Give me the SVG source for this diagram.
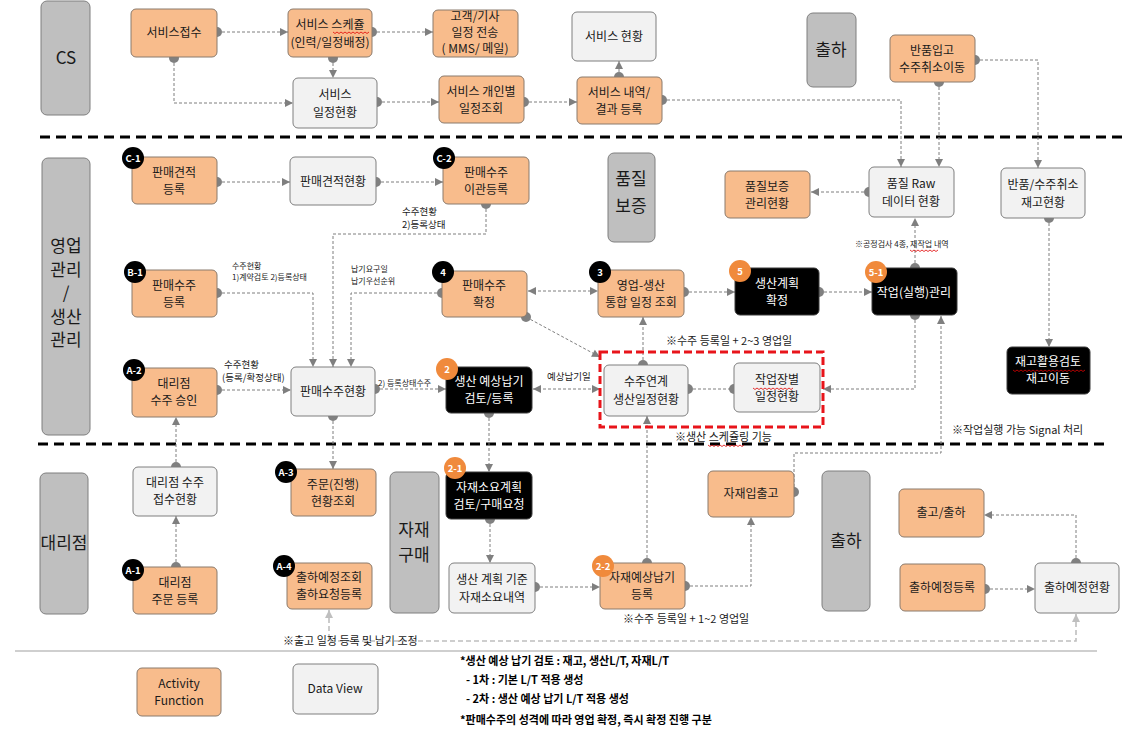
<svg xmlns="http://www.w3.org/2000/svg" width="1124" height="729" viewBox="0 0 1124 729">
<defs>
<style>
text{font-family:"Noto Sans CJK KR","Noto Sans",sans-serif}
.lane{fill:#bfbfbf;stroke:#7f7f7f;stroke-width:1}
.act{fill:#f8bc8c;stroke:#8a7a6c;stroke-width:1}
.dv{fill:#f2f2f2;stroke:#7f7f7f;stroke-width:1}
.blk{fill:#000;stroke:#3a3a3a;stroke-width:1}
.t{font-size:12px;fill:#1a1a1a;text-anchor:middle}
.tw{font-size:12px;fill:#fff;text-anchor:middle}
.lt{font-size:17px;fill:#1a1a1a;text-anchor:middle}
.bb{fill:#000}
.bo{fill:#f08a3c}
.bt{font-size:9.5px;font-weight:bold;fill:#fff;text-anchor:middle}
.c{fill:none;stroke:#7f7f7f;stroke-width:1;stroke-dasharray:3 2}
.cl{fill:none;stroke:#bfbfbf;stroke-width:1.6;stroke-dasharray:5 3}
.sep{stroke:#000;stroke-width:3;stroke-dasharray:10 6}
.note{font-size:9.5px;fill:#1a1a1a}
.nl{font-size:11px;fill:#1a1a1a}
.small{font-size:8px;fill:#1a1a1a}
.leg{font-size:11px;font-weight:bold;fill:#000}
.sq{fill:none;stroke:#e00000;stroke-width:0.8}
</style>
<marker id="a" viewBox="0 0 10 10" refX="10" refY="5" markerWidth="9" markerHeight="8" markerUnits="userSpaceOnUse" orient="auto-start-reverse"><path d="M0,0 L10,5 L0,10 z" fill="#7f7f7f"/></marker>
<marker id="al" viewBox="0 0 10 10" refX="10" refY="5" markerWidth="9" markerHeight="8" markerUnits="userSpaceOnUse" orient="auto-start-reverse"><path d="M0,0 L10,5 L0,10 z" fill="#bfbfbf"/></marker>
<marker id="d" viewBox="0 0 10 10" refX="5" refY="5" markerWidth="10" markerHeight="10" markerUnits="userSpaceOnUse"><circle cx="5" cy="5" r="5" fill="#808080"/></marker>
</defs>
<rect width="1124" height="729" fill="#fff"/>

<g id="separators">
<line class="sep" x1="40" y1="137" x2="1122" y2="137"/>
<line class="sep" x1="38" y1="444" x2="1108" y2="444"/>
<line x1="15" y1="651" x2="1097" y2="651" stroke="#bfbfbf" stroke-width="1.5"/>
</g>

<g id="lanes">
<g id="lane-cs"><rect class="lane" x="41" y="1" width="49" height="114" rx="6"/><text class="lt" x="66" y="64" font-size="16">CS</text></g>
<g id="lane-sales"><rect class="lane" x="42" y="158" width="48" height="277" rx="6"/><text class="lt" x="66" y="252" font-size="16">영업</text><text class="lt" x="66" y="275.5" font-size="16">관리</text><text class="lt" x="66" y="299" font-size="16">/</text><text class="lt" x="66" y="322.5" font-size="16">생산</text><text class="lt" x="66" y="346" font-size="16">관리</text></g>
<g id="lane-ship1"><rect class="lane" x="807" y="13" width="49" height="74" rx="6"/><text class="lt" x="831" y="56">출하</text></g>
<g id="lane-qa"><rect class="lane" x="608" y="153" width="47" height="89" rx="6"/><text class="lt" x="631" y="185">품질</text><text class="lt" x="631" y="212">보증</text></g>
<g id="lane-agent"><rect class="lane" x="40" y="473" width="48" height="141" rx="6"/><text class="lt" x="64" y="549">대리점</text></g>
<g id="lane-mat"><rect class="lane" x="390" y="472" width="49" height="141" rx="6"/><text class="lt" x="414" y="536">자재</text><text class="lt" x="414" y="561">구매</text></g>
<g id="lane-ship2"><rect class="lane" x="822" y="471" width="48" height="140" rx="6"/><text class="lt" x="846" y="547">출하</text></g>
</g>

<g id="connectors">
<path class="c" d="M217,32 H288" marker-start="url(#d)" marker-end="url(#a)"/>
<path class="c" d="M372,32 H433" marker-start="url(#d)" marker-end="url(#a)"/>
<path class="c" d="M333,58 V78" marker-start="url(#d)" marker-end="url(#a)"/>
<path class="c" d="M174,58 V103 H293" marker-start="url(#d)" marker-end="url(#a)"/>
<path class="c" d="M377,102 H439" marker-start="url(#d)" marker-end="url(#a)"/>
<path class="c" d="M524,102 H577" marker-start="url(#d)" marker-end="url(#a)"/>
<path class="c" d="M619,77 V61" marker-start="url(#d)" marker-end="url(#a)"/>
<path class="c" d="M662,100 H901 V167" marker-start="url(#d)" marker-end="url(#a)"/>
<path class="c" d="M975,60 H1038 V168" marker-start="url(#d)" marker-end="url(#a)"/>
<path class="c" d="M939,82 V167" marker-start="url(#d)" marker-end="url(#a)"/>
<path class="c" d="M217,182 H290" marker-start="url(#d)" marker-end="url(#a)"/>
<path class="c" d="M376,182 H443" marker-start="url(#d)" marker-end="url(#a)"/>
<path class="c" d="M486,204 V234 H333 V367" marker-start="url(#d)" marker-end="url(#a)"/>
<path class="c" d="M217,293 H313 V367" marker-start="url(#d)" marker-end="url(#a)"/>
<path class="c" d="M442,293 H351 V367" marker-start="url(#d)" marker-end="url(#a)"/>
<path class="c" d="M869,192 H811" marker-start="url(#d)" marker-end="url(#a)"/>
<path class="c" d="M1049,218 V347" marker-start="url(#d)" marker-end="url(#a)"/>
<path class="c" d="M915,268 V218" marker-start="url(#d)" marker-end="url(#a)"/>
<path class="c" d="M528,291 H598" marker-start="url(#a)" marker-end="url(#a)"/>
<path class="c" d="M684,292 H735" marker-start="url(#d)" marker-end="url(#a)"/>
<path class="c" d="M819,292 H872" marker-start="url(#d)" marker-end="url(#a)"/>
<path class="c" d="M526,317 L600,357" marker-start="url(#d)" marker-end="url(#a)"/>
<path class="c" d="M643,365 V317" marker-start="url(#d)" marker-end="url(#a)"/>
<path class="c" d="M688,389 H734" marker-start="url(#d)" marker-end="url(#d)"/>
<path class="c" d="M915,315 V389 H823" marker-start="url(#d)" marker-end="url(#a)"/>
<path class="c" d="M533,389 H600" marker-start="url(#a)" marker-end="url(#a)"/>
<path class="c" d="M375,389 H446" marker-start="url(#d)" marker-end="url(#a)"/>
<path class="c" d="M217,390 H291" marker-start="url(#d)" marker-end="url(#a)"/>
<path class="c" d="M333,416 V469" marker-start="url(#d)" marker-end="url(#a)"/>
<path class="c" d="M489,413 V472" marker-start="url(#d)" marker-end="url(#a)"/>
<path class="c" d="M176,467 V417" marker-start="url(#d)" marker-end="url(#a)"/>
<path class="c" d="M176,567 V516" marker-start="url(#d)" marker-end="url(#a)"/>
<path class="c" d="M490,519 V563" marker-start="url(#d)" marker-end="url(#a)"/>
<path class="c" d="M535,587 H600" marker-start="url(#d)" marker-end="url(#a)"/>
<path class="c" d="M647,563 V416" marker-start="url(#d)" marker-end="url(#a)"/>
<path class="c" d="M685,586 H751 V517" marker-start="url(#d)" marker-end="url(#a)"/>
<path class="c" d="M794,492 V453 H941 V316" marker-start="url(#d)" marker-end="url(#a)"/>
<path class="c" d="M985,589 H1035" marker-start="url(#d)" marker-end="url(#a)"/>
<path class="c" d="M1076,563 V515 H984" marker-start="url(#d)" marker-end="url(#a)"/>
<path class="cl" d="M329,610 V641 H1076 V614" marker-start="url(#al)" marker-end="url(#al)"/>
</g>

<g id="annotations">
<text class="note" x="402" y="215">수주현황</text>
<text class="note" x="402" y="228">2)등록상태</text>
<text class="small" x="232" y="269" font-size="8.5">수주현황</text>
<text class="small" x="232" y="280" font-size="8.5">1)계약검토  2)등록상태</text>
<text class="small" x="351" y="272">납기요구일</text>
<text class="small" x="351" y="284">납기우선순위</text>
<text class="note" x="224" y="368" font-size="10.5">수주현황</text>
<text class="note" x="222" y="381" font-size="10.5">(등록/확정상태)</text>
<text class="small" x="378" y="386">2) 등록상태수주</text>
<text class="note" x="547" y="380">예상납기일</text>
<text class="small" x="855" y="247" font-size="9">※공정검사 4종, 재작업 내역</text>
<text class="nl" x="666" y="345">※수주 등록일 + 2~3 영업일</text>
<text class="nl" x="675" y="441">※생산 스케쥴링 기능</text>
<text class="nl" x="952" y="434">※작업실행 가능 Signal  처리</text>
<text class="nl" x="623" y="623">※수주 등록일 + 1~2 영업일</text>
<text class="nl" x="283" y="645">※출고 일정 등록 및 납기 조정</text>
<rect x="600" y="352" width="223" height="75" fill="none" stroke="#e8141a" stroke-width="3" stroke-dasharray="8 4"/>
</g>

<g id="n-service-receipt"><rect class="act" x="131" y="9" width="86" height="48" rx="5"/><text class="t" x="174" y="37">서비스접수</text></g>
<g id="n-service-schedule"><rect class="act" x="288" y="9" width="84" height="48" rx="5"/><text class="t" x="330" y="29">서비스 스케쥴</text><text class="t" x="330" y="47">(인력/일정배정)</text></g>
<g id="n-customer-send"><rect class="act" x="433" y="10" width="85" height="47" rx="5"/><text class="t" x="475" y="21">고객/기사</text><text class="t" x="475" y="37">일정 전송</text><text class="t" x="475" y="53">( MMS/ 메일)</text></g>
<g id="n-service-status"><rect class="dv" x="572" y="12" width="84" height="49" rx="5"/><text class="t" x="614" y="41">서비스 현황</text></g>
<g id="n-return"><rect class="act" x="890" y="35" width="85" height="47" rx="5"/><text class="t" x="932" y="55">반품입고</text><text class="t" x="932" y="72">수주취소이동</text></g>
<g id="n-service-sched-status"><rect class="dv" x="293" y="78" width="84" height="50" rx="5"/><text class="t" x="335" y="99">서비스</text><text class="t" x="335" y="117">일정현황</text></g>
<g id="n-service-personal"><rect class="act" x="439" y="76" width="85" height="47" rx="5"/><text class="t" x="481" y="96">서비스 개인별</text><text class="t" x="481" y="113">일정조회</text></g>
<g id="n-service-result"><rect class="act" x="577" y="77" width="85" height="47" rx="5"/><text class="t" x="619" y="97">서비스 내역/</text><text class="t" x="619" y="114">결과 등록</text></g>

<g id="n-c1"><rect class="act" x="132" y="157" width="85" height="47" rx="5"/><text class="t" x="174" y="177">판매견적</text><text class="t" x="174" y="194">등록</text><circle class="bb" cx="133" cy="158" r="11"/><text class="bt" x="133" y="161.5">C-1</text></g>
<g id="n-quote-status"><rect class="dv" x="290" y="157" width="86" height="48" rx="5"/><text class="t" x="333" y="186">판매견적현황</text></g>
<g id="n-c2"><rect class="act" x="443" y="157" width="86" height="47" rx="5"/><text class="t" x="486" y="177">판매수주</text><text class="t" x="486" y="194">이관등록</text><circle class="bb" cx="444" cy="158" r="11"/><text class="bt" x="444" y="161.5">C-2</text></g>
<g id="n-qa-mgmt"><rect class="act" x="725" y="171" width="85" height="47" rx="5"/><text class="t" x="767" y="191">품질보증</text><text class="t" x="767" y="208">관리현황</text></g>
<g id="n-qa-raw"><rect class="dv" x="869" y="167" width="85" height="50" rx="5"/><text class="t" x="911" y="188">품질 Raw</text><text class="t" x="911" y="206">데이터 현황</text></g>
<g id="n-return-stock"><rect class="dv" x="1001" y="168" width="84" height="50" rx="5"/><text class="t" x="1043" y="189">반품/수주취소</text><text class="t" x="1043" y="207">재고현황</text></g>
<g id="n-b1"><rect class="act" x="132" y="270" width="85" height="47" rx="5"/><text class="t" x="174" y="290">판매수주</text><text class="t" x="174" y="307">등록</text><circle class="bb" cx="135" cy="272" r="11"/><text class="bt" x="135" y="275.5">B-1</text></g>
<g id="n-4"><rect class="act" x="442" y="271" width="85" height="46" rx="5"/><text class="t" x="484" y="290">판매수주</text><text class="t" x="484" y="307">확정</text><circle class="bb" cx="443" cy="272" r="11"/><text class="bt" x="443" y="275.5">4</text></g>
<g id="n-3"><rect class="act" x="598" y="270" width="86" height="47" rx="5"/><text class="t" x="641" y="290">영업-생산</text><text class="t" x="641" y="307">통합 일정 조회</text><circle class="bb" cx="600" cy="272" r="11"/><text class="bt" x="600" y="275.5">3</text></g>
<g id="n-5"><rect class="blk" x="735" y="268" width="84" height="47" rx="5"/><text class="tw" x="777" y="288">생산계획</text><text class="tw" x="777" y="305">확정</text><circle class="bo" cx="740" cy="271" r="11"/><text class="bt" x="740" y="274.5">5</text></g>
<g id="n-5-1"><rect class="blk" x="872" y="268" width="85" height="47" rx="5"/><text class="tw" x="914" y="297">작업(실행)관리</text><circle class="bo" cx="876" cy="272" r="11"/><text class="bt" x="876" y="275.5">5-1</text></g>
<g id="n-stock-reuse"><rect class="blk" x="1007" y="347" width="83" height="47" rx="5"/><text class="tw" x="1048" y="366">재고활용검토</text><text class="tw" x="1048" y="383">재고이동</text></g>
<g id="n-order-link"><rect class="dv" x="604" y="365" width="84" height="51" rx="5"/><text class="t" x="646" y="386">수주연계</text><text class="t" x="646" y="404">생산일정현황</text></g>
<g id="n-workcenter"><rect class="dv" x="734" y="363" width="86" height="49" rx="5"/><text class="t" x="777" y="384">작업장별</text><text class="t" x="777" y="401">일정현황</text></g>
<g id="n-a2"><rect class="act" x="132" y="368" width="85" height="49" rx="5"/><text class="t" x="174" y="388">대리점</text><text class="t" x="174" y="405">수주 승인</text><circle class="bb" cx="134" cy="370" r="11"/><text class="bt" x="134" y="373.5">A-2</text></g>
<g id="n-order-status"><rect class="dv" x="291" y="367" width="84" height="49" rx="5"/><text class="t" x="333" y="396">판매수주현황</text></g>
<g id="n-2"><rect class="blk" x="446" y="367" width="86" height="46" rx="5"/><text class="tw" x="489" y="386">생산 예상납기</text><text class="tw" x="489" y="403">검토/등록</text><circle class="bo" cx="447" cy="369" r="11"/><text class="bt" x="447" y="372.5">2</text></g>

<g id="n-agent-recv"><rect class="dv" x="133" y="467" width="84" height="49" rx="5"/><text class="t" x="175" y="487">대리점 수주</text><text class="t" x="175" y="504">접수현황</text></g>
<g id="n-a1"><rect class="act" x="133" y="567" width="84" height="47" rx="5"/><text class="t" x="175" y="587">대리점</text><text class="t" x="175" y="604">주문 등록</text><circle class="bb" cx="133" cy="570" r="11"/><text class="bt" x="133" y="573.5">A-1</text></g>
<g id="n-a3"><rect class="act" x="291" y="469" width="85" height="47" rx="5"/><text class="t" x="333" y="489">주문(진행)</text><text class="t" x="333" y="506">현황조회</text><circle class="bb" cx="286" cy="472" r="11"/><text class="bt" x="286" y="475.5">A-3</text></g>
<g id="n-a4"><rect class="act" x="287" y="563" width="85" height="46" rx="5"/><text class="t" x="329" y="582">출하예정조회</text><text class="t" x="329" y="599">출하요청등록</text><circle class="bb" cx="284" cy="566" r="11"/><text class="bt" x="284" y="569.5">A-4</text></g>
<g id="n-2-1"><rect class="blk" x="446" y="472" width="86" height="47" rx="5"/><text class="tw" x="489" y="492">자재소요계획</text><text class="tw" x="489" y="509">검토/구매요청</text><circle class="bo" cx="455" cy="468" r="11"/><text class="bt" x="455" y="471.5">2-1</text></g>
<g id="n-mat-req"><rect class="dv" x="449" y="563" width="86" height="50" rx="5"/><text class="t" x="492" y="584">생산 계획 기준</text><text class="t" x="492" y="602">자재소요내역</text></g>
<g id="n-2-2"><rect class="act" x="600" y="563" width="85" height="46" rx="5"/><text class="t" x="642" y="582">자재예상납기</text><text class="t" x="642" y="599">등록</text><circle class="bo" cx="603" cy="566" r="11"/><text class="bt" x="603" y="569.5">2-2</text></g>
<g id="n-mat-io"><rect class="act" x="708" y="471" width="86" height="46" rx="5"/><text class="t" x="751" y="498">자재입출고</text></g>
<g id="n-ship-out"><rect class="act" x="899" y="489" width="85" height="48" rx="5"/><text class="t" x="941" y="517">출고/출하</text></g>
<g id="n-ship-plan"><rect class="act" x="900" y="564" width="85" height="47" rx="5"/><text class="t" x="942" y="592">출하예정등록</text></g>
<g id="n-ship-status"><rect class="dv" x="1035" y="563" width="84" height="50" rx="5"/><text class="t" x="1077" y="592">출하예정현황</text></g>

<g id="legend">
<g id="leg-activity"><rect class="act" x="137" y="668" width="84" height="48" rx="5"/><text class="t" x="179" y="688">Activity</text><text class="t" x="179" y="705">Function</text></g>
<g id="leg-data"><rect class="dv" x="293" y="664" width="85" height="50" rx="5"/><text class="t" x="335" y="693">Data View</text></g>
<text class="leg" x="460" y="665">*생산 예상 납기 검토 : 재고, 생산L/T, 자재L/T</text>
<text class="leg" x="466" y="684">- 1차 : 기본 L/T 적용 생성</text>
<text class="leg" x="466" y="703">- 2차 : 생산 예상 납기 L/T 적용 생성</text>
<text class="leg" x="460" y="724">*판매수주의 성격에 따라 영업 확정, 즉시 확정 진행 구분</text>
</g>

<g id="spellmarks">
<path class="sq" d="M333,32 l2,1.5 l2,-1.5 l2,1.5 l2,-1.5 l2,1.5 l2,-1.5 l2,1.5 l2,-1.5 l2,1.5 l2,-1.5 l2,1.5 l2,-1.5 l2,1.5 l2,-1.5 l2,1.5 l2,-1.5 l2,1.5 l2,-1.5"/>
<path class="sq" d="M910,250 l2,1.5 l2,-1.5 l2,1.5 l2,-1.5 l2,1.5 l2,-1.5 l2,1.5 l2,-1.5 l2,1.5 l2,-1.5 l2,1.5 l2,-1.5 l2,1.5 l2,-1.5"/>
<path class="sq" d="M753,388 l2,1.5 l2,-1.5 l2,1.5 l2,-1.5 l2,1.5 l2,-1.5 l2,1.5 l2,-1.5 l2,1.5 l2,-1.5 l2,1.5 l2,-1.5 l2,1.5 l2,-1.5 l2,1.5 l2,-1.5 l2,1.5 l2,-1.5 l2,1.5 l2,-1.5"/>
<path class="sq" d="M1013,370 l2,1.5 l2,-1.5 l2,1.5 l2,-1.5 l2,1.5 l2,-1.5 l2,1.5 l2,-1.5 l2,1.5 l2,-1.5 l2,1.5 l2,-1.5 l2,1.5 l2,-1.5 l2,1.5 l2,-1.5 l2,1.5 l2,-1.5 l2,1.5 l2,-1.5 l2,1.5 l2,-1.5 l2,1.5 l2,-1.5 l2,1.5 l2,-1.5 l2,1.5 l2,-1.5 l2,1.5 l2,-1.5 l2,1.5 l2,-1.5 l2,1.5 l2,-1.5 l2,1.5 l2,-1.5"/>
<path class="sq" d="M708,445 l2,1.5 l2,-1.5 l2,1.5 l2,-1.5 l2,1.5 l2,-1.5 l2,1.5 l2,-1.5 l2,1.5 l2,-1.5 l2,1.5 l2,-1.5 l2,1.5 l2,-1.5 l2,1.5 l2,-1.5 l2,1.5 l2,-1.5"/>
</g>
</svg>
